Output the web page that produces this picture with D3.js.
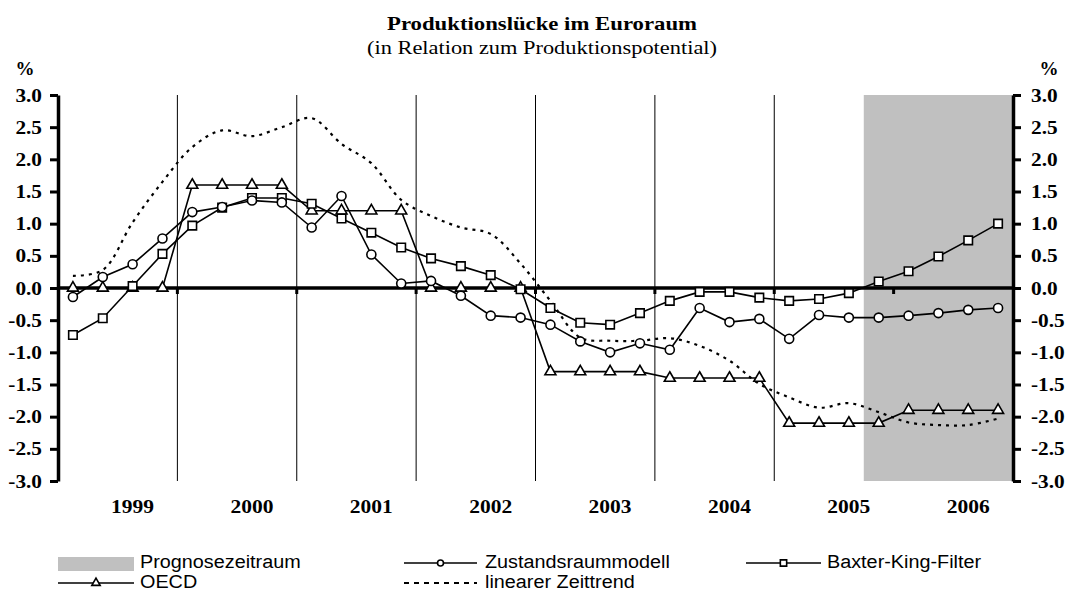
<!DOCTYPE html>
<html>
<head>
<meta charset="utf-8">
<script src="https://cdn.jsdelivr.net/npm/d3@7"></script>
<style>
  body { margin: 0; background: #fff; }
  .serif { font-family: "Liberation Serif", "Times New Roman", serif; }
  .sans { font-family: "Liberation Sans", Arial, sans-serif; }
</style>
</head>
<body>
<svg id="chart" width="1068" height="591"></svg>
<script>
// Quartale 1999Q1 .. 2006Q4
const quarters = d3.range(32);
const years = ["1999", "2000", "2001", "2002", "2003", "2004", "2005", "2006"];
const yTicks = [-3, -2.5, -2, -1.5, -1, -0.5, 0, 0.5, 1, 1.5, 2, 2.5, 3];
const prognoseStart = 27; // erstes Quartal im Prognosezeitraum

const zustand = [-0.14, 0.17, 0.37, 0.77, 1.18, 1.26, 1.36, 1.33, 0.94, 1.43, 0.52, 0.07,
  0.11, -0.12, -0.43, -0.46, -0.57, -0.83, -1.0, -0.86, -0.96, -0.31, -0.53, -0.48,
  -0.79, -0.42, -0.46, -0.46, -0.43, -0.39, -0.34, -0.31];
const baxterKing = [-0.73, -0.47, 0.03, 0.53, 0.97, 1.25, 1.4, 1.4, 1.31, 1.08, 0.86, 0.63,
  0.46, 0.34, 0.2, -0.02, -0.31, -0.54, -0.57, -0.39, -0.2, -0.06, -0.06, -0.15,
  -0.2, -0.17, -0.08, 0.1, 0.26, 0.49, 0.74, 1.0];
const oecd = [0, 0, 0, 0, 1.6, 1.6, 1.6, 1.6, 1.2, 1.2, 1.2, 1.2,
  0, 0, 0, 0, -1.3, -1.3, -1.3, -1.3, -1.4, -1.4, -1.4, -1.4,
  -2.1, -2.1, -2.1, -2.1, -1.9, -1.9, -1.9, -1.9];
const zeittrend = [0.19, 0.28, 1.02, 1.65, 2.19, 2.45, 2.36, 2.5, 2.64, 2.24, 1.94, 1.37,
  1.12, 0.94, 0.84, 0.38, -0.2, -0.77, -0.82, -0.82, -0.78, -0.9, -1.13, -1.49,
  -1.7, -1.86, -1.79, -1.93, -2.09, -2.13, -2.13, -2.03];

const svg = d3.select("#chart");
const plotLeft = 58, plotRight = 1013, plotTop = 95, plotBottom = 481;

const x = d3.scaleBand().domain(quarters).range([plotLeft, plotRight]).padding(0);
const bw = x.bandwidth();
const cx = i => x(i) + bw / 2;
const y = d3.scaleLinear().domain([-3, 3]).range([plotBottom, plotTop]);

// Text etwas breiter ziehen (Vorlage ist horizontal gestreckt)
function stretch(sel, k) {
  sel.each(function() {
    const w = this.getComputedTextLength();
    d3.select(this).attr("textLength", w * k).attr("lengthAdjust", "spacingAndGlyphs");
  });
}

// Titel
svg.append("text").attr("class", "serif")
  .attr("x", 542).attr("y", 30).attr("text-anchor", "middle")
  .attr("font-size", 19).attr("font-weight", "bold")
  .attr("textLength", 310).attr("lengthAdjust", "spacingAndGlyphs")
  .text("Produktionslücke im Euroraum");
svg.append("text").attr("class", "serif")
  .attr("x", 542).attr("y", 54).attr("text-anchor", "middle")
  .attr("font-size", 19)
  .attr("textLength", 350).attr("lengthAdjust", "spacingAndGlyphs")
  .text("(in Relation zum Produktionspotential)");

// vertikale Jahreslinien
svg.append("g").selectAll("line")
  .data(d3.range(1, 8))
  .enter().append("line")
    .attr("x1", k => x(k * 4)).attr("x2", k => x(k * 4))
    .attr("y1", plotTop).attr("y2", plotBottom)
    .attr("stroke", "#000").attr("stroke-width", 1);

// Prognosezeitraum
svg.append("rect")
  .attr("x", x(prognoseStart)).attr("y", plotTop)
  .attr("width", plotRight - x(prognoseStart)).attr("height", plotBottom - plotTop)
  .attr("fill", "#c0c0c0");

// Nulllinie mit Jahresstrichen
svg.append("line")
  .attr("x1", plotLeft).attr("x2", plotRight).attr("y1", y(0)).attr("y2", y(0))
  .attr("stroke", "#000").attr("stroke-width", 3.5);
svg.append("g").selectAll("rect")
  .data(d3.range(1, 8))
  .enter().append("rect")
    .attr("x", k => x(k * 4) - 1.5).attr("y", y(0))
    .attr("width", 3).attr("height", 6).attr("fill", "#000");

// Achsen
const fmt = v => v.toFixed(1);
const yLeft = svg.append("g").attr("transform", "translate(" + plotLeft + ",0)")
  .call(d3.axisLeft(y).tickValues(yTicks).tickFormat(fmt).tickSize(8).tickSizeOuter(0).tickPadding(8));
const yRight = svg.append("g").attr("transform", "translate(" + plotRight + ",0)")
  .call(d3.axisRight(y).tickValues(yTicks).tickFormat(fmt).tickSize(8).tickSizeOuter(0).tickPadding(10));
[yLeft, yRight].forEach(function(g) {
  g.select(".domain").attr("stroke-width", 3.5);
  g.selectAll(".tick line").attr("stroke-width", 3);
  g.selectAll(".tick text")
    .attr("class", "serif")
    .attr("font-size", 19).attr("font-weight", "bold").attr("fill", "#000");
  stretch(g.selectAll(".tick text"), 1.12);
});

svg.append("text").attr("class", "serif").attr("x", 25).attr("y", 75)
  .attr("text-anchor", "middle").attr("font-size", 19).attr("font-weight", "bold").text("%");
svg.append("text").attr("class", "serif").attr("x", 1049).attr("y", 75)
  .attr("text-anchor", "middle").attr("font-size", 19).attr("font-weight", "bold").text("%");

// Jahreszahlen
const yearLabels = svg.append("g").selectAll("text")
  .data(years)
  .enter().append("text")
    .attr("class", "serif")
    .attr("x", (d, k) => cx(k * 4 + 2)).attr("y", 513)
    .attr("text-anchor", "middle")
    .attr("font-size", 19).attr("font-weight", "bold")
    .text(d => d);
stretch(yearLabels, 1.13);

// Linien
const line = d3.line().x((d, i) => cx(i)).y(d => y(d));
const smooth = d3.line().x((d, i) => cx(i)).y(d => y(d)).curve(d3.curveCatmullRom.alpha(0.5));

svg.append("path").datum(zeittrend)
  .attr("d", smooth).attr("fill", "none")
  .attr("stroke", "#000").attr("stroke-width", 2.2).attr("stroke-dasharray", "3,5");

[zustand, baxterKing, oecd].forEach(function(s) {
  svg.append("path").datum(s)
    .attr("d", line).attr("fill", "none")
    .attr("stroke", "#000").attr("stroke-width", 1.6);
});

const circleSym = d3.symbol().type(d3.symbolCircle).size(64);
const squareSym = d3.symbol().type(d3.symbolSquare).size(72);
const triSym = d3.symbol().type(d3.symbolTriangle).size(52);

function markers(data, sym) {
  svg.append("g").selectAll("path")
    .data(data)
    .enter().append("path")
      .attr("transform", (d, i) => "translate(" + cx(i) + "," + y(d) + ")")
      .attr("d", sym)
      .attr("fill", "#fff").attr("stroke", "#000").attr("stroke-width", 1.6);
}
markers(oecd, triSym);
markers(baxterKing, squareSym);
markers(zustand, circleSym);

// Legende
const lg = svg.append("g").attr("class", "sans");
function legendText(tx, ty, label) {
  const t = lg.append("text").attr("x", tx).attr("y", ty)
    .attr("font-size", 18).attr("fill", "#000").text(label);
  stretch(t, 1.1);
}
function legendLine(x1, x2, ly, sym, dash) {
  lg.append("line").attr("x1", x1).attr("x2", x2).attr("y1", ly).attr("y2", ly)
    .attr("stroke", "#000").attr("stroke-width", dash ? 2 : 1.6)
    .attr("stroke-dasharray", dash ? "5,5" : null);
  if (sym) {
    lg.append("path").attr("transform", "translate(" + ((x1 + x2) / 2) + "," + ly + ")")
      .attr("d", sym).attr("fill", "#fff").attr("stroke", "#000").attr("stroke-width", 1.6);
  }
}
lg.append("rect").attr("x", 58).attr("y", 557).attr("width", 76).attr("height", 14).attr("fill", "#c0c0c0");
legendText(140, 568, "Prognosezeitraum");
legendLine(404, 477, 563, d3.symbol().type(d3.symbolCircle).size(28));
legendText(485, 568, "Zustandsraummodell");
legendLine(746, 821, 563, d3.symbol().type(d3.symbolSquare).size(40));
legendText(827, 568, "Baxter-King-Filter");
legendLine(58, 134, 583, d3.symbol().type(d3.symbolTriangle).size(30));
legendText(140, 588, "OECD");
legendLine(404, 477, 583, null, true);
legendText(485, 588, "linearer Zeittrend");
</script>
</body>
</html>
